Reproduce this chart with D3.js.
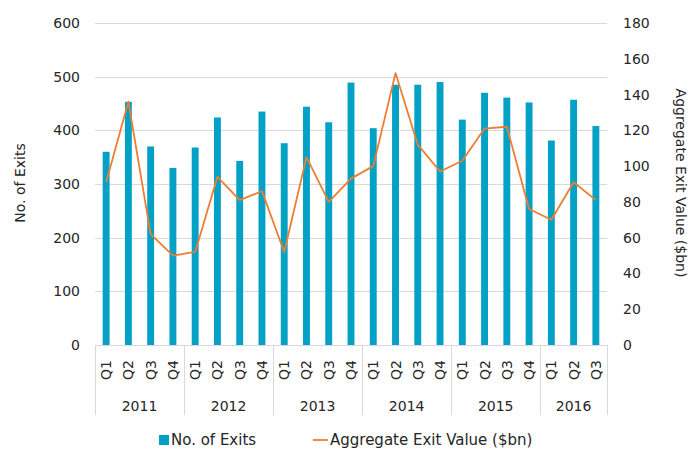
<!DOCTYPE html>
<html>
<head>
<meta charset="utf-8">
<script src="https://cdn.jsdelivr.net/npm/d3@7"></script>
<style>
  body { margin: 0; background: #fff; }
  text { font-family: "Century Gothic", "DejaVu Sans", sans-serif; fill: #262626; }
</style>
</head>
<body>
<svg id="chart" width="693" height="449"></svg>
<script>
const years = ['2011', '2012', '2013', '2014', '2015', '2016']
const quarters = [
  ['Q1', 'Q2', 'Q3', 'Q4'], ['Q1', 'Q2', 'Q3', 'Q4'], ['Q1', 'Q2', 'Q3', 'Q4'],
  ['Q1', 'Q2', 'Q3', 'Q4'], ['Q1', 'Q2', 'Q3', 'Q4'], ['Q1', 'Q2', 'Q3']
]
const exits = [360, 453, 370, 330, 368, 424, 343, 435, 376, 444, 415, 489,
  404, 485, 485, 490, 420, 470, 461, 452, 381, 457, 408]
const exitValue = [91, 136, 62, 50, 52, 94, 81, 86, 52, 105, 80, 93,
  100, 152, 112, 97, 103, 121, 122, 76, 70, 91, 81]
const leftTicks = [0, 100, 200, 300, 400, 500, 600]
const rightTicks = [0, 20, 40, 60, 80, 100, 120, 140, 160, 180]

const barColor = '#04A1C6'
const lineColor = '#ED7D31'
const gridColor = '#D9D9D9'

const svg = d3.select('#chart')
const plotLeft = 95, plotRight = 607, plotTop = 23, plotBottom = 345

// flatten quarters into categories
const cats = []
years.forEach((y, i) => quarters[i].forEach(q => cats.push({ year: y, q: q, key: y + q })))

const x = d3.scaleBand().domain(cats.map(d => d.key)).range([plotLeft, plotRight])
const yL = d3.scaleLinear().domain([0, 600]).range([plotBottom, plotTop])
const yR = d3.scaleLinear().domain([0, 180]).range([plotBottom, plotTop])

// gridlines
svg.append('g')
  .selectAll('line')
  .data(leftTicks.slice(1))
  .enter()
  .append('line')
    .attr('x1', plotLeft).attr('x2', plotRight)
    .attr('y1', d => Math.round(yL(d)) + 0.5).attr('y2', d => Math.round(yL(d)) + 0.5)
    .attr('stroke', gridColor).attr('stroke-width', 1)

// left axis labels
svg.append('g')
  .selectAll('text')
  .data(leftTicks)
  .enter()
  .append('text')
    .attr('x', 80).attr('y', d => yL(d) + 5)
    .attr('text-anchor', 'end')
    .attr('font-size', '14px')
    .text(d => d)

// right axis labels
svg.append('g')
  .selectAll('text')
  .data(rightTicks)
  .enter()
  .append('text')
    .attr('x', 623).attr('y', d => yR(d) + 5)
    .attr('text-anchor', 'start')
    .attr('font-size', '14px')
    .text(d => d)

// bars
const bw = x.bandwidth() * 0.31
svg.append('g')
  .selectAll('rect')
  .data(cats)
  .enter()
  .append('rect')
    .attr('x', d => x(d.key) + (x.bandwidth() - bw) / 2)
    .attr('y', (d, i) => yL(exits[i]))
    .attr('width', bw)
    .attr('height', (d, i) => plotBottom - yL(exits[i]))
    .attr('fill', barColor)

// line
const line = d3.line()
  .x(d => x(d.key) + x.bandwidth() / 2)
  .y((d, i) => yR(exitValue[i]))
svg.append('path')
  .datum(cats)
  .attr('d', line)
  .attr('fill', 'none')
  .attr('stroke', lineColor)
  .attr('stroke-width', 1.8)
  .attr('stroke-linejoin', 'round')

// category axis
svg.append('line')
  .attr('x1', plotLeft).attr('x2', plotRight)
  .attr('y1', plotBottom + 0.5).attr('y2', plotBottom + 0.5)
  .attr('stroke', gridColor)

let start = 0
const seps = [plotLeft]
years.forEach((y, i) => {
  const n = quarters[i].length
  const x0 = x(cats[start].key)
  const x1 = x(cats[start + n - 1].key) + x.bandwidth()
  seps.push(x1)
  svg.append('text')
    .attr('x', (x0 + x1) / 2).attr('y', 411)
    .attr('text-anchor', 'middle')
    .attr('font-size', '14px')
    .text(y)
  start += n
})
svg.append('g')
  .selectAll('line')
  .data(seps)
  .enter()
  .append('line')
    .attr('x1', d => Math.round(d) + 0.5).attr('x2', d => Math.round(d) + 0.5)
    .attr('y1', plotBottom).attr('y2', 415)
    .attr('stroke', gridColor)

svg.append('g')
  .selectAll('text')
  .data(cats)
  .enter()
  .append('text')
    .attr('transform', d => `translate(${x(d.key) + x.bandwidth() / 2 + 5}, 370) rotate(-90)`)
    .attr('text-anchor', 'middle')
    .attr('font-size', '14px')
    .text(d => d.q)

// axis titles
svg.append('text')
  .attr('transform', `translate(25, 183) rotate(-90)`)
  .attr('text-anchor', 'middle')
  .attr('font-size', '14px')
  .text('No. of Exits')

svg.append('text')
  .attr('transform', `translate(676, 183) rotate(90)`)
  .attr('text-anchor', 'middle')
  .attr('font-size', '14px')
  .text('Aggregate Exit Value ($bn)')

// legend
svg.append('rect')
  .attr('x', 159).attr('y', 435)
  .attr('width', 10).attr('height', 10)
  .attr('fill', barColor)
svg.append('text')
  .attr('x', 171).attr('y', 445)
  .attr('font-size', '15px')
  .text('No. of Exits')
svg.append('line')
  .attr('x1', 313).attr('x2', 328)
  .attr('y1', 440).attr('y2', 440)
  .attr('stroke', lineColor).attr('stroke-width', 1.8)
svg.append('text')
  .attr('x', 330).attr('y', 445)
  .attr('font-size', '15px')
  .text('Aggregate Exit Value ($bn)')
</script>
</body>
</html>
